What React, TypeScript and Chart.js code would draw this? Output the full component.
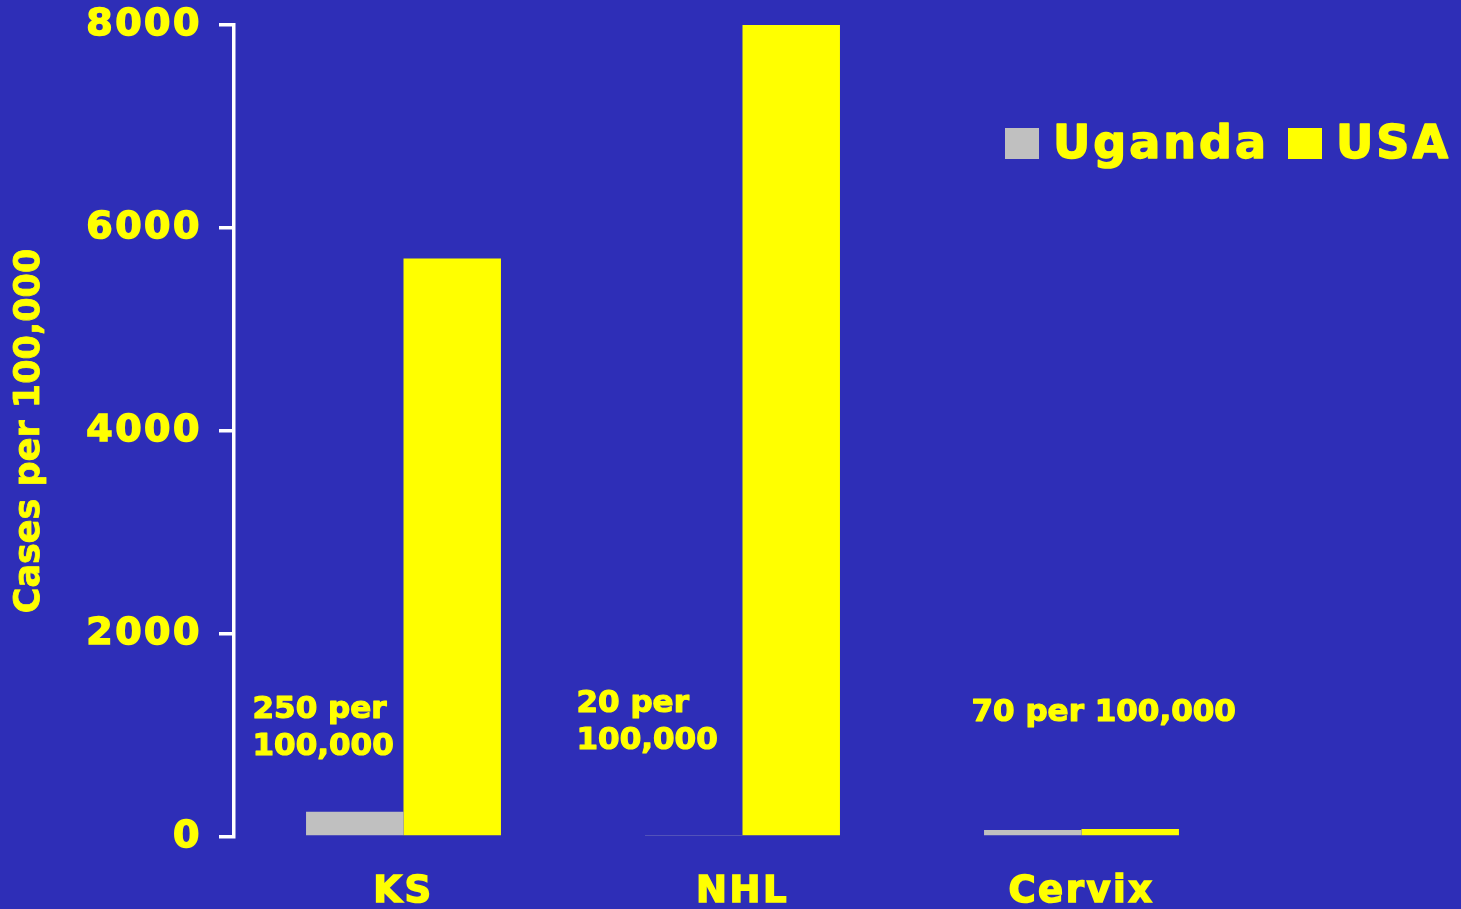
import React, { useEffect, useRef } from 'react';
import { Chart, registerables } from 'chart.js';

Chart.register(...registerables);

// ---- data ----
const categories = ['KS', 'NHL', 'Cervix'];
const seriesNames = ['Uganda', 'USA'];
const ugandaValues = [250, 20, 70];
const usaValues = [5700, 8000, 80];
const yTickValues = [0, 2000, 4000, 6000, 8000];
const axisTitle = 'Cases per 100,000';
const noteTexts = [['250 per', '100,000'], ['20 per', '100,000'], ['70 per 100,000']];

// ---- style ----
const FONT = '"DejaVu Sans", Verdana, sans-serif';
const YELLOW = '#FFFF00';
const GRAY = '#C0C0C0';
const BG = '#2E2EB7';
const WHITE = '#FFFFFF';
const notePos = [
  { dx: -150, ys: [710, 747] },
  { dx: -165, ys: [704, 741] },
  { dx: -109, ys: [713] },
];
const legendPos = [
  { sx: 1005, tx: 1053 },
  { sx: 1288, tx: 1336 },
];

function fillBold(ctx: any, text: string, x: number, y: number, w: number) {
  ctx.fillText(text, x, y);
  ctx.lineWidth = w;
  ctx.strokeText(text, x, y);
}

const decorPlugin = {
  id: 'decor',
  beforeDraw(chart: any) {
    (chart.ctx as any).letterSpacing = '2.5px';
  },
  afterDraw(chart: any) {
    const ctx = chart.ctx as any;
    const xs = chart.scales.x;
    const area = chart.chartArea;

    // axis title
    ctx.save();
    ctx.letterSpacing = '0px';
    ctx.fillStyle = YELLOW;
    ctx.strokeStyle = YELLOW;
    ctx.lineJoin = 'round';
    ctx.font = `bold 35px ${FONT}`;
    ctx.translate(30, (area.top + area.bottom) / 2);
    ctx.rotate(-Math.PI / 2);
    ctx.textAlign = 'center';
    ctx.textBaseline = 'middle';
    fillBold(ctx, axisTitle, 0, 0, 0.8);
    ctx.restore();

    // notes
    ctx.save();
    ctx.letterSpacing = '0px';
    ctx.fillStyle = YELLOW;
    ctx.strokeStyle = YELLOW;
    ctx.lineJoin = 'round';
    ctx.font = `bold 31px ${FONT}`;
    ctx.textAlign = 'left';
    ctx.textBaseline = 'middle';
    noteTexts.forEach((lines, i) => {
      const cx = xs.getPixelForValue(i);
      const p = notePos[i];
      lines.forEach((ln, j) => {
        fillBold(ctx, ln, cx + p.dx - 1, p.ys[j], 1.2);
      });
    });
    ctx.restore();

    // legend
    ctx.save();
    ctx.letterSpacing = '3px';
    ctx.font = `bold 46px ${FONT}`;
    ctx.textAlign = 'left';
    ctx.textBaseline = 'middle';
    ctx.lineJoin = 'round';
    const colors = [GRAY, YELLOW];
    seriesNames.forEach((name, i) => {
      const p = legendPos[i];
      ctx.fillStyle = colors[i];
      ctx.fillRect(p.sx, 128, 34, 31);
      ctx.fillStyle = YELLOW;
      ctx.strokeStyle = YELLOW;
      fillBold(ctx, name, p.tx, 146, 1.5);
    });
    ctx.restore();
  },
};

export default function App() {
  const canvasRef = useRef<HTMLCanvasElement | null>(null);

  useEffect(() => {
    if (!canvasRef.current) return;
    const chart = new Chart(canvasRef.current, {
      type: 'bar',
      data: {
        labels: categories,
        datasets: [
          {
            label: seriesNames[0],
            data: ugandaValues,
            backgroundColor: GRAY,
            borderWidth: 0,
            categoryPercentage: 0.575,
            barPercentage: 1.0,
          },
          {
            label: seriesNames[1],
            data: usaValues,
            backgroundColor: YELLOW,
            borderWidth: 0,
            categoryPercentage: 0.575,
            barPercentage: 1.0,
          },
        ],
      },
      options: {
        animation: false,
        responsive: true,
        maintainAspectRatio: false,
        layout: { padding: { top: 25, right: 210, left: 0, bottom: 0 } },
        plugins: {
          legend: { display: false },
          tooltip: { enabled: false },
          title: { display: false },
        },
        scales: {
          x: {
            grid: { display: false, drawTicks: false },
            border: { display: false },
            ticks: {
              color: YELLOW,
              font: { family: FONT, size: 37, weight: 'bold' },
              padding: 33,
              textStrokeColor: YELLOW,
              textStrokeWidth: 1.5,
            },
            afterFit: (s: any) => {
              s.height = 72;
              s.paddingLeft = 0;
              s.paddingRight = 0;
            },
          },
          y: {
            min: 0,
            max: 8000,
            afterBuildTicks: (s: any) => {
              s.ticks = yTickValues.map((v) => ({ value: v }));
            },
            grid: {
              display: true,
              drawOnChartArea: false,
              drawTicks: true,
              tickLength: 15,
              color: WHITE,
              lineWidth: 3.5,
            },
            border: { display: true, color: WHITE, width: 3.5 },
            ticks: {
              color: YELLOW,
              font: { family: FONT, size: 38, weight: 'bold' },
              padding: 17,
              textStrokeColor: YELLOW,
              textStrokeWidth: 1.5,
              callback: (v: any) => String(v),
            },
            afterFit: (s: any) => {
              s.width = 234;
              s.paddingTop = 0;
              s.paddingBottom = 0;
            },
          },
        },
      },
      plugins: [decorPlugin],
    });
    return () => chart.destroy();
  }, []);

  return (
    <div
      style={{
        position: 'fixed',
        left: 0,
        top: 0,
        width: 1461,
        height: 909,
        background: BG,
      }}
    >
      <canvas ref={canvasRef} />
    </div>
  );
}
